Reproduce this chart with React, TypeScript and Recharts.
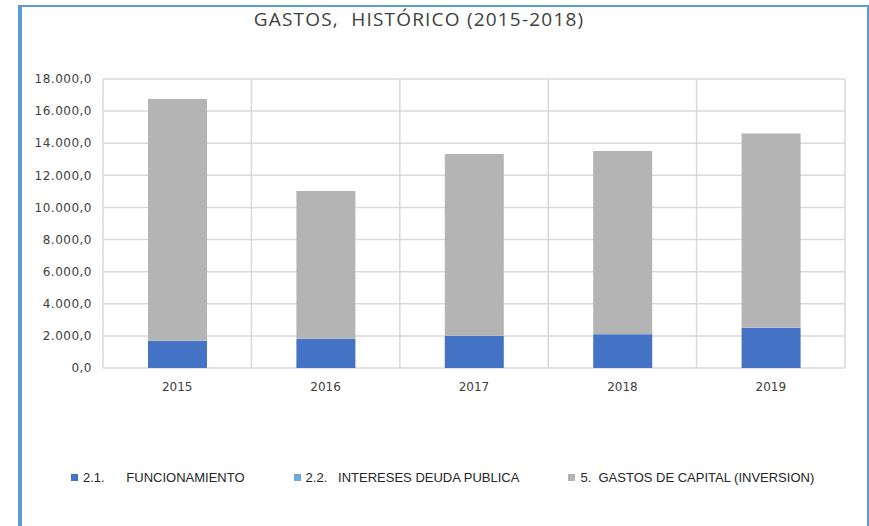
import { BarChart, Bar, XAxis, YAxis, CartesianGrid, Legend } from "recharts";

const years = ["2015", "2016", "2017", "2018", "2019"];
const funcionamiento = [1680, 1800, 1990, 2100, 2510];
const interesesDeuda = [20, 20, 20, 20, 20];
const gastosCapital = [15050, 9200, 11320, 11390, 12080];
const yTicks = [0, 2000, 4000, 6000, 8000, 10000, 12000, 14000, 16000, 18000];

const data = years.map((y, i) => ({
    year: y,
    func: funcionamiento[i],
    deuda: interesesDeuda[i],
    capital: gastosCapital[i],
}));

const fmt = (v: number) =>
    v.toFixed(1).replace(".", ",").replace(/\B(?=(\d{3})+(?!\d))/g, ".");

// grid lines sit between categories, like excel
const catBounds = ({ offset }: any) =>
    [0, 1, 2, 3, 4, 5].map(i => offset.left + (offset.width * i) / years.length);

const renderLegend = (props: any) => {
    const { payload } = props;
    return (
        <div style={{ display: "flex", gap: 49, height: 16, fontFamily: "'Liberation Sans', sans-serif", fontSize: 13, color: "#262626" }}>
            {payload.map((p: any) => (
                <div key={p.value} style={{ display: "flex", alignItems: "center" }}>
                    <span style={{ width: 7, height: 7, background: p.color, marginRight: 5, display: "inline-block" }} />
                    <span style={{ whiteSpace: "pre" }}>{p.value}</span>
                </div>
            ))}
        </div>
    );
};

const App = () => {
    return (
        <div style={{ position: "absolute", left: 0, top: 0, width: 869, height: 526, background: "#fff", overflow: "hidden" }}>
            <div style={{ position: "absolute", left: 18, top: 5, width: 845, height: 540, borderLeft: "4px solid #5b9bd5", borderTop: "2px solid #5b9bd5", borderRight: "2px solid #5b9bd5" }} />
            <div style={{ position: "absolute", left: 0, top: 6, width: 838, textAlign: "center", whiteSpace: "pre", fontFamily: "'Open Sans', sans-serif", fontSize: 19, letterSpacing: 1.2, color: "#404040" }}>
                GASTOS,  HISTÓRICO (2015-2018)
            </div>
            <div style={{ position: "absolute", left: 0, top: 0 }}>
                <BarChart width={869} height={526} data={data} margin={{ top: 79, right: 24, bottom: 112, left: 0 }} barSize={59}>
                    <CartesianGrid stroke="#d9d9d9" strokeWidth={1.5} verticalCoordinatesGenerator={catBounds} />
                    <XAxis dataKey="year" height={30} axisLine={false} tickLine={false} tick={{ fill: "#404040", fontSize: 12, fontFamily: "'DejaVu Sans', sans-serif" }} tickMargin={8} />
                    <YAxis width={103} domain={[0, 18000]} ticks={yTicks} tickFormatter={fmt} axisLine={false} tickLine={false} tickMargin={5} tick={{ fill: "#404040", fontSize: 12, letterSpacing: 0.5, fontFamily: "'DejaVu Sans', sans-serif" }} />
                    <Legend content={renderLegend} wrapperStyle={{ left: 71, top: 469, width: "auto", height: 16 }} />
                    <Bar dataKey="func" name="2.1.      FUNCIONAMIENTO" stackId="a" fill="#4472c4" isAnimationActive={false} />
                    <Bar dataKey="deuda" name="2.2.   INTERESES DEUDA PUBLICA" stackId="a" fill="#6fa8dc" isAnimationActive={false} />
                    <Bar dataKey="capital" name="5.  GASTOS DE CAPITAL (INVERSION)" stackId="a" fill="#b4b4b4" isAnimationActive={false} />
                </BarChart>
            </div>
        </div>
    );
};

export default App;
